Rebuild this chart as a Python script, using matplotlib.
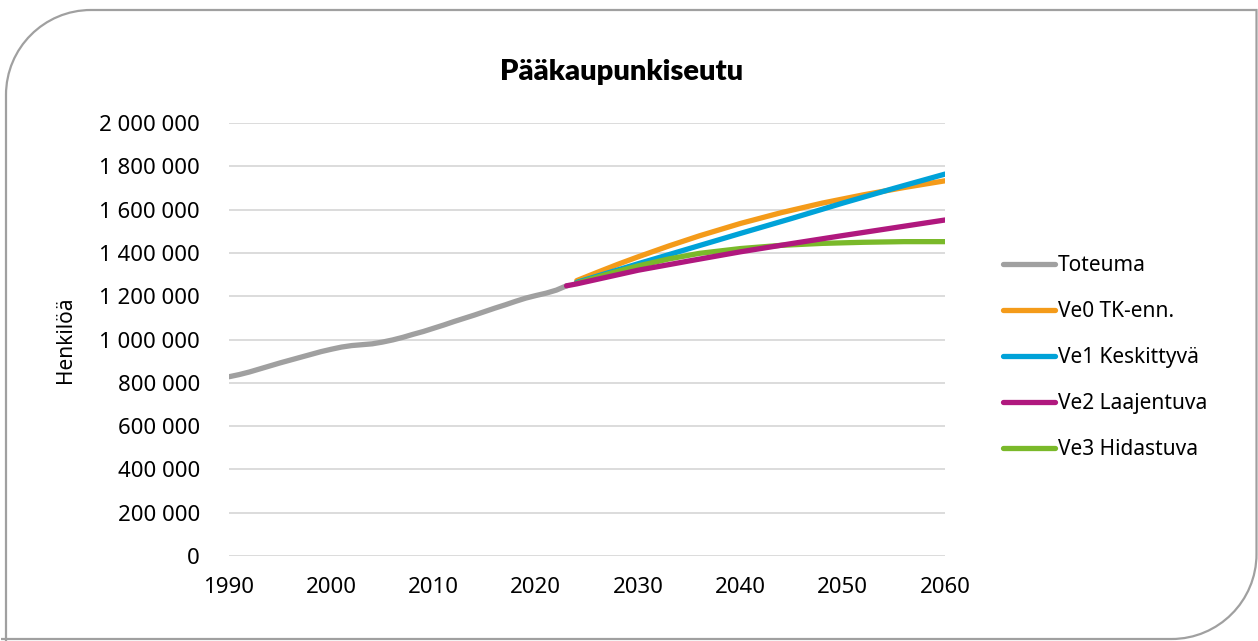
import matplotlib
matplotlib.use("Agg")
import matplotlib.pyplot as plt
from matplotlib.path import Path
from matplotlib.patches import PathPatch
from matplotlib.ticker import FuncFormatter

plt.rcParams['font.family'] = ['Noto Sans', 'DejaVu Sans']

# toteutunut väestö
vuodet = list(range(1990, 2024))
toteuma = [828, 838, 850, 864, 878, 892, 905, 918, 931, 944,
           955, 965, 972, 976, 980, 988, 998, 1010, 1024, 1037,
           1052, 1067, 1083, 1098, 1113, 1129, 1145, 1160, 1176, 1191,
           1203, 1214, 1228, 1248]

# skenaariot (tuhatta henkeä)
ve0_v = [2024, 2026, 2028, 2030, 2033, 2036, 2040, 2044, 2048, 2052, 2056, 2060]
ve0 = [1272, 1310, 1347, 1382, 1432, 1479, 1536, 1586, 1630, 1668, 1702, 1733]
ve1_v = [2024, 2030, 2035, 2040, 2045, 2050, 2055, 2060]
ve1 = [1264, 1350, 1420, 1490, 1559, 1630, 1698, 1764]
ve2_v = [2023, 2024, 2030, 2035, 2040, 2045, 2050, 2055, 2060]
ve2 = [1248, 1257, 1320, 1363, 1405, 1443, 1480, 1516, 1552]
ve3_v = [2024, 2027, 2030, 2033, 2036, 2040, 2044, 2048, 2052, 2056, 2060]
ve3 = [1260, 1302, 1340, 1372, 1398, 1420, 1435, 1444, 1449, 1452, 1452]

W, H = 1258, 641
fig = plt.figure(figsize=(W / 100, H / 100), dpi=100)
ax = fig.add_axes([229 / W, 1 - 556 / H, (945 - 229) / W, (556 - 123) / H])

lw = 3.8
ax.plot(vuodet, [v * 1000 for v in toteuma], color='#a0a0a0', lw=lw, solid_capstyle='round', label='Toteuma')
ax.plot(ve0_v, [v * 1000 for v in ve0], color='#f49b1a', lw=lw, solid_capstyle='round', label='Ve0 TK-enn.')
ax.plot(ve1_v, [v * 1000 for v in ve1], color='#00a2d8', lw=lw, solid_capstyle='round', label='Ve1 Keskittyvä')
ax.plot(ve3_v, [v * 1000 for v in ve3], color='#7ab92a', lw=lw, solid_capstyle='round', label='Ve3 Hidastuva')
ax.plot(ve2_v, [v * 1000 for v in ve2], color='#b0187e', lw=lw, solid_capstyle='round', label='Ve2 Laajentuva')

ax.set_xlim(1990, 2060)
ax.set_ylim(0, 2000000)
ax.set_xticks(range(1990, 2061, 10))
ax.set_yticks(range(0, 2000001, 200000))
ax.yaxis.set_major_formatter(FuncFormatter(lambda v, p: f"{int(v):,}".replace(",", " ")))
ax.tick_params(length=0, labelsize=16)
ax.tick_params(axis='y', pad=21)
ax.tick_params(axis='x', pad=15)
ax.grid(axis='y', color='#d9d9d9', lw=1.3)
ax.set_axisbelow(True)
for s in ax.spines.values():
    s.set_visible(False)
ax.set_ylabel('Henkilöä', fontsize=15)
ax.yaxis.set_label_coords((76 - 229) / (945 - 229), 0.5)

fig.text(622 / W, 1 - 72 / H, 'Pääkaupunkiseutu', ha='center', va='center',
         fontsize=21, fontweight='heavy', family=['Lato', 'DejaVu Sans'])

h, lab = ax.get_legend_handles_labels()
order = [0, 1, 2, 4, 3]
fig.legend([h[i] for i in order], [lab[i] for i in order], loc='center left',
           bbox_to_anchor=(1003 / W, 1 - 357.5 / H), bbox_transform=fig.transFigure,
           frameon=False, fontsize=15, handlelength=2.5, handletextpad=0.15,
           labelspacing=1.2, borderpad=0, borderaxespad=0)

# reunus: pyöristetty vasen ylä- ja oikea alakulma
r, k = 85, 0.5523
L, T, R, B = 6, 10, 1256.5, 639
pts = [(L, H + 5), (L, T + r),
       (L, T + r * (1 - k)), (L + r * (1 - k), T), (L + r, T),
       (R, T), (R, B - r),
       (R, B - r * (1 - k)), (R - r * (1 - k), B), (R - r, B),
       (L - 5, B)]
codes = [Path.MOVETO, Path.LINETO, Path.CURVE4, Path.CURVE4, Path.CURVE4,
         Path.LINETO, Path.LINETO, Path.CURVE4, Path.CURVE4, Path.CURVE4, Path.LINETO]
pts = [(x / W, 1 - y / H) for x, y in pts]
fig.patches.append(PathPatch(Path(pts, codes), transform=fig.transFigure,
                             facecolor='none', edgecolor='#a0a0a0', lw=1.6))

fig.savefig('out.png', dpi=100)
